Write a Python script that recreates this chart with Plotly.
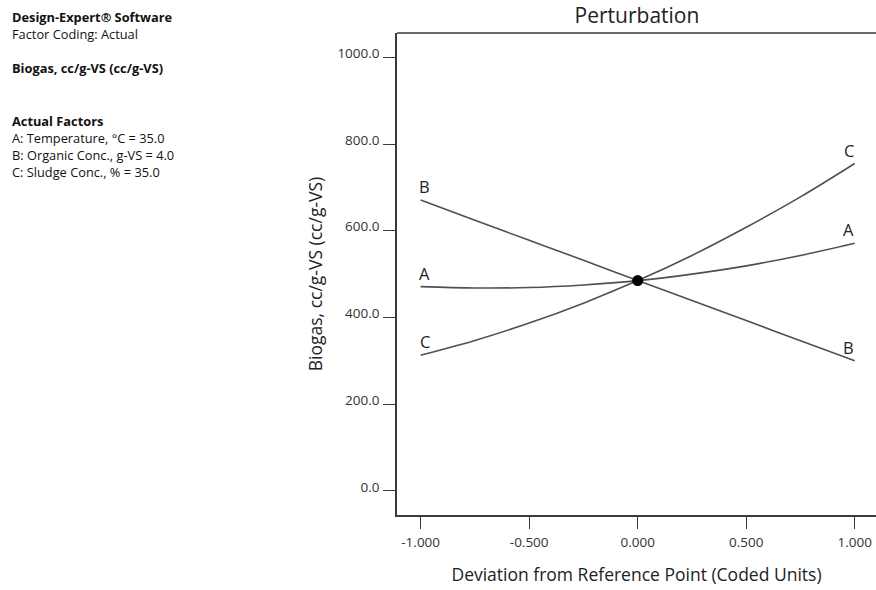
import plotly.graph_objects as go

# Coded deviation from the reference point
deviation = [-1.0, -0.75, -0.5, -0.25, 0.0, 0.25, 0.5, 0.75, 1.0]

# Predicted biogas (cc/g-VS) along each factor trace
biogas_a = [471, 468, 469, 475, 485, 500, 519, 543, 571]   # A: Temperature
biogas_b = [671, 624, 578, 532, 485, 439, 393, 346, 300]   # B: Organic Conc.
biogas_c = [313, 347, 387, 433, 485, 543, 608, 678, 755]   # C: Sludge Conc.

ref_x = [0.0]
ref_y = [485]

y_ticks = [0, 200, 400, 600, 800, 1000]
x_ticks = [-1.0, -0.5, 0.0, 0.5, 1.0]

info_lines = [
    ("Design-Expert® Software", True, 17),
    ("Factor Coding: Actual", False, 34),
    ("Biogas, cc/g-VS (cc/g-VS)", True, 68),
    ("Actual Factors", True, 121),
    ("A: Temperature, °C = 35.0", False, 138),
    ("B: Organic Conc., g-VS = 4.0", False, 155),
    ("C: Sludge Conc., % = 35.0", False, 172),
]

W, H = 876, 590
L, R, T, B = 397, 0, 33, 75
FONT = "Open Sans"
LINE_COL = "#505050"
AXIS_COL = "#3a3a3a"
TEXT_COL = "#222222"

traces = {"A": biogas_a, "B": biogas_b, "C": biogas_c}

fig = go.Figure()
for name, ys in traces.items():
    fig.add_trace(go.Scatter(
        x=deviation, y=ys, mode="lines", name=name,
        line=dict(color=LINE_COL, width=1.6, shape="spline", smoothing=1.0),
        showlegend=False, hoverinfo="x+y",
    ))

fig.add_trace(go.Scatter(
    x=ref_x, y=ref_y, mode="markers",
    marker=dict(color="black", size=11),
    showlegend=False,
))

# Factor letters at both ends of each trace
for name, ys in traces.items():
    fig.add_annotation(x=deviation[0], y=ys[0], text=name, showarrow=False,
                       xanchor="center", yanchor="bottom", xshift=4, yshift=0,
                       font=dict(family=FONT, size=16.5, color=TEXT_COL))
    fig.add_annotation(x=deviation[-1], y=ys[-1], text=name, showarrow=False,
                       xanchor="center", yanchor="bottom", xshift=-6, yshift=0,
                       font=dict(family=FONT, size=16.5, color=TEXT_COL))

# Information panel on the left
for text, bold, ypx in info_lines:
    fig.add_annotation(
        xref="paper", yref="paper",
        x=(10 - L) / (W - L - R), y=1 - (ypx - T) / (H - T - B),
        text=f"<b>{text}</b>" if bold else text,
        showarrow=False, xanchor="left", yanchor="middle",
        font=dict(family=FONT, size=12.8, color="#111111"),
    )

# Top border of the frame
fig.add_shape(type="line", xref="paper", yref="paper", x0=0, x1=1, y0=1, y1=1,
              line=dict(color=AXIS_COL, width=1.5))

fig.update_layout(
    width=W, height=H,
    margin=dict(l=L, r=R, t=T, b=B, pad=0),
    paper_bgcolor="white", plot_bgcolor="white",
    font=dict(family=FONT, color="#333333"),
    title=dict(text="Perturbation", x=637 / W, xanchor="center",
               y=1 - 16 / H, yanchor="middle", xref="container", yref="container",
               font=dict(family=FONT, size=21, color="#222222")),
    xaxis=dict(
        range=[-1.109, 1.098], tickvals=x_ticks,
        ticktext=[f"{v:.3f}" for v in x_ticks],
        showgrid=False, zeroline=False, showline=True, linecolor=AXIS_COL, linewidth=1.5,
        ticks="outside", ticklen=12, tickwidth=1.3, tickcolor=AXIS_COL,
        tickfont=dict(family=FONT, size=13.5, color="#333333"),
        ticklabelstandoff=2,
        title=dict(text="Deviation from Reference Point (Coded Units)", standoff=19,
                   font=dict(family=FONT, size=17.5, color="#222222")),
    ),
    yaxis=dict(
        range=[-55.6, 1056], tickvals=y_ticks,
        ticktext=[f"{v:.1f}" for v in y_ticks],
        showgrid=False, zeroline=False, showline=True, linecolor=AXIS_COL, linewidth=1.5,
        ticks="outside", ticklen=12, tickwidth=1.3, tickcolor=AXIS_COL,
        tickfont=dict(family=FONT, size=13.5, color="#333333"),
        ticklabelstandoff=1, ticklabelshift=-4,
        title=dict(text="Biogas, cc/g-VS (cc/g-VS)", standoff=10,
                   font=dict(family=FONT, size=17.5, color="#222222")),
    ),
)

fig.write_html("out.html")
